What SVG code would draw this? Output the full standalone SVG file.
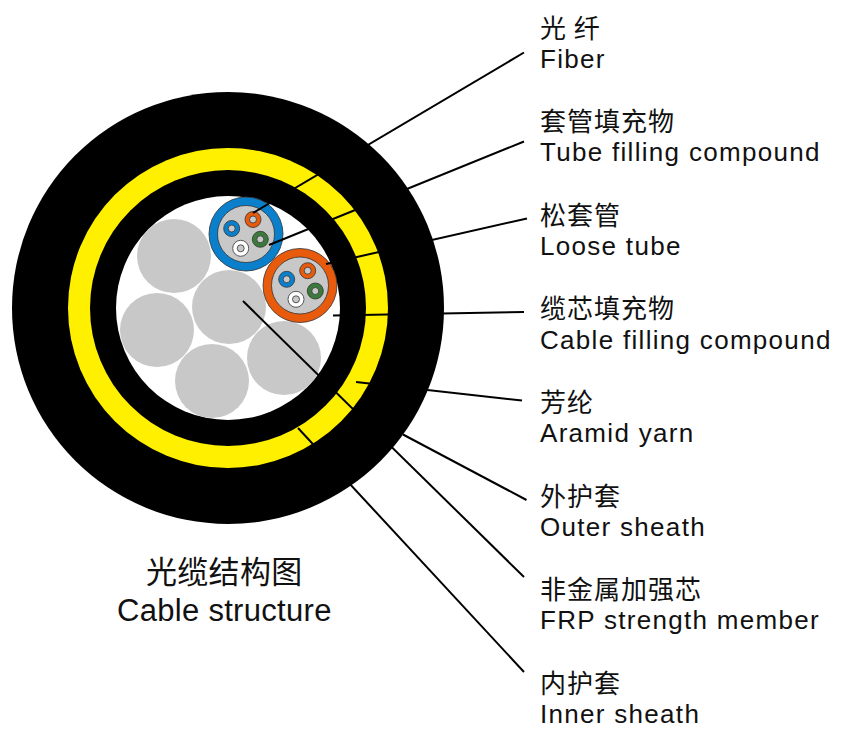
<svg xmlns="http://www.w3.org/2000/svg" width="845" height="736" viewBox="0 0 845 736">
<style>
.t{font-family:"Liberation Sans",Arial,sans-serif;font-size:26px;fill:#111;letter-spacing:1.3px}
.c{font-family:"Noto Sans CJK SC",sans-serif;font-size:26px;fill:#111;letter-spacing:1px}
.b{font-size:31px;letter-spacing:.3px}
.g{fill:#c8c8c8}
.f{stroke:#333;stroke-width:.8}
.l{fill:none;stroke:#000;stroke-width:2}
</style>
<rect width="845" height="736" fill="#fff"/>
<g id="cable">
<circle cx="228" cy="308" r="216" fill="#000"/>
<circle cx="228" cy="308" r="160" fill="#fff000"/>
<circle cx="228" cy="308" r="138" fill="#000"/>
<circle cx="228" cy="308" r="112" fill="#fff"/>
</g>
<g id="strength-members">
<circle class="g" cx="174" cy="256" r="37"/>
<circle class="g" cx="157" cy="330" r="37"/>
<circle class="g" cx="229" cy="307" r="37"/>
<circle class="g" cx="284" cy="358" r="37"/>
<circle class="g" cx="212" cy="381" r="37"/>
</g>
<g id="tube-blue">
<circle class="f" cx="246" cy="234" r="37" fill="#0a80cc"/>
<circle class="g f" cx="246" cy="234" r="28.500"/>
<circle cx="253" cy="219.500" r="8" fill="#e85a0c" class="f"/><circle class="g f" cx="253" cy="219.500" r="3.500"/>
<circle cx="231.700" cy="228.500" r="8" fill="#0a80cc" class="f"/><circle class="g f" cx="231.700" cy="228.500" r="3.500"/>
<circle cx="260.300" cy="239.300" r="8" fill="#3a7a3a" class="f"/><circle class="g f" cx="260.300" cy="239.300" r="3.500"/>
<circle cx="240.700" cy="248.300" r="8" fill="#fff" class="f"/><circle class="g f" cx="240.700" cy="248.300" r="3.500"/>
</g>
<g id="tube-orange">
<circle class="f" cx="300" cy="285.500" r="37" fill="#e85a0c"/>
<circle class="g f" cx="300" cy="285.500" r="28.500"/>
<circle cx="307.700" cy="270.700" r="8" fill="#e85a0c" class="f"/><circle class="g f" cx="307.700" cy="270.700" r="3.500"/>
<circle cx="286.700" cy="279.300" r="8" fill="#0a80cc" class="f"/><circle class="g f" cx="286.700" cy="279.300" r="3.500"/>
<circle cx="315.300" cy="291" r="8" fill="#3a7a3a" class="f"/><circle class="g f" cx="315.300" cy="291" r="3.500"/>
<circle cx="296" cy="299.300" r="8" fill="#fff" class="f"/><circle class="g f" cx="296" cy="299.300" r="3.500"/>
</g>
<g id="connectors">
<path class="l" d="M524 52.500L253 213"/>
<path class="l" d="M524 141.500L269 245"/>
<path class="l" d="M527 218.500L326 264"/>
<path class="l" d="M524 312L333 315.500"/>
<path class="l" d="M522 400.500L356 382"/>
<path class="l" d="M526.500 500L403 434.500"/>
<path class="l" d="M524 577L243 301"/>
<path class="l" d="M524 672L298 428"/>
</g>
<g id="label-fiber"><text class="c" x="540" y="38">光 纤</text><text class="t" x="540" y="68">Fiber</text></g>
<g id="label-tube-filling"><text class="c" x="540" y="131">套管填充物</text><text class="t" x="540" y="161">Tube filling compound</text></g>
<g id="label-loose-tube"><text class="c" x="540" y="225">松套管</text><text class="t" x="540" y="255">Loose tube</text></g>
<g id="label-cable-filling"><text class="c" x="540" y="318">缆芯填充物</text><text class="t" x="540" y="349">Cable filling compound</text></g>
<g id="label-aramid"><text class="c" x="540" y="412">芳纶</text><text class="t" x="540" y="442">Aramid yarn</text></g>
<g id="label-outer"><text class="c" x="540" y="506">外护套</text><text class="t" x="540" y="536">Outer sheath</text></g>
<g id="label-frp"><text class="c" x="540" y="599">非金属加强芯</text><text class="t" x="540" y="629">FRP strength member</text></g>
<g id="label-inner"><text class="c" x="540" y="693">内护套</text><text class="t" x="540" y="723">Inner sheath</text></g>
<g id="caption"><text class="c b" x="146" y="583">光缆结构图</text><text class="t b" x="117" y="621">Cable structure</text></g>
</svg>
